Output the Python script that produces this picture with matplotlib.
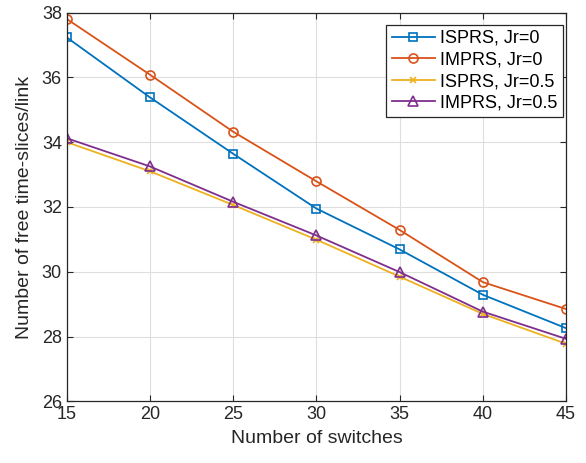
import matplotlib.pyplot as plt

plt.rcParams["font.family"] = ["Liberation Sans", "DejaVu Sans"]

switches = [15, 20, 25, 30, 35, 40, 45]
isprs_jr0 = [37.23, 35.38, 33.64, 31.95, 30.69, 29.29, 28.26]
imprs_jr0 = [37.80, 36.08, 34.32, 32.79, 31.29, 29.68, 28.85]
isprs_jr05 = [34.00, 33.10, 32.06, 30.99, 29.85, 28.70, 27.78]
imprs_jr05 = [34.12, 33.25, 32.16, 31.12, 29.99, 28.77, 27.93]

series = [
    ("ISPRS, Jr=0", isprs_jr0, "#0072BD", "s", 5.5),
    ("IMPRS, Jr=0", imprs_jr0, "#D95319", "o", 6.5),
    ("ISPRS, Jr=0.5", isprs_jr05, "#EDB120", "x", 5),
    ("IMPRS, Jr=0.5", imprs_jr05, "#7E2F8E", "^", 6.5),
]

fig = plt.figure(figsize=(5.86, 4.63), dpi=100)
ax = fig.add_axes([0.114, 0.133, 0.852, 0.840])

for label, vals, color, marker, ms in series:
    ax.plot(switches, vals, color=color, marker=marker, markersize=ms,
            markerfacecolor="none", markeredgewidth=1.2, linewidth=1.3,
            label=label)

ax.set_xlim(15, 45)
ax.set_ylim(26, 38)
ax.set_xticks(switches)
ax.set_yticks([26, 28, 30, 32, 34, 36, 38])
ax.grid(True, color="#dedede", linewidth=0.8)
ax.tick_params(direction="in", top=True, right=True, labelsize=13,
               length=4, colors="#262626")
for s in ax.spines.values():
    s.set_color("#262626")
    s.set_linewidth(0.9)

ax.set_xlabel("Number of switches", fontsize=14, color="#262626", labelpad=5)
ax.set_ylabel("Number of free time-slices/link", fontsize=14, color="#262626",
              labelpad=6)

leg = ax.legend(loc="upper right", bbox_to_anchor=(0.994, 0.969),
                fontsize=13, fancybox=False, edgecolor="#262626",
                framealpha=1, handlelength=2.4, borderaxespad=0,
                labelspacing=0.25, handletextpad=0.3, borderpad=0.3)
leg.get_frame().set_linewidth(0.9)

fig.savefig("out.png", dpi=100)
